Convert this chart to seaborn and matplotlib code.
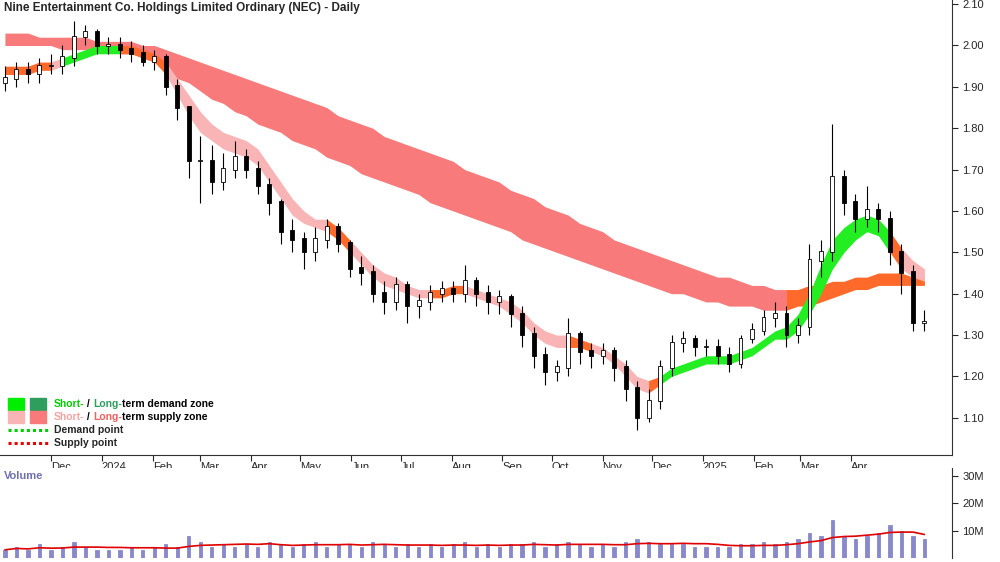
import matplotlib
matplotlib.use("Agg")
import matplotlib.pyplot as plt
import matplotlib.dates as mdates
from matplotlib.patches import Rectangle
import seaborn as sns
import pandas as pd
import numpy as np

weeks = pd.date_range("2023-11-03", periods=81, freq="W-FRI")
opens = [1.91,1.92,1.94,1.93,1.95,1.95,1.97,2.02,2.03,2.00,
         2.00,1.99,1.98,1.96,1.97,1.90,1.85,1.72,1.72,1.67,
         1.70,1.73,1.70,1.66,1.62,1.55,1.53,1.50,1.53,1.56,
         1.52,1.46,1.45,1.40,1.38,1.42,1.37,1.38,1.40,1.41,
         1.40,1.43,1.40,1.38,1.39,1.35,1.30,1.25,1.21,1.22,
         1.30,1.26,1.25,1.26,1.22,1.17,1.10,1.14,1.22,1.28,
         1.29,1.27,1.27,1.25,1.23,1.29,1.31,1.34,1.35,1.30,
         1.32,1.48,1.50,1.68,1.62,1.58,1.60,1.58,1.50,1.45,
         1.33]
closes = [1.92,1.94,1.93,1.95,1.95,1.97,2.02,2.03,2.00,2.00,
          1.99,1.98,1.96,1.97,1.90,1.85,1.72,1.72,1.67,1.70,
          1.73,1.70,1.66,1.62,1.55,1.53,1.50,1.53,1.56,1.52,
          1.46,1.45,1.40,1.38,1.42,1.37,1.38,1.40,1.41,1.40,
          1.43,1.40,1.38,1.39,1.35,1.30,1.25,1.21,1.22,1.30,
          1.26,1.25,1.26,1.22,1.17,1.10,1.14,1.22,1.28,1.29,
          1.27,1.27,1.25,1.23,1.29,1.31,1.34,1.35,1.30,1.32,
          1.48,1.50,1.68,1.62,1.58,1.60,1.58,1.50,1.45,1.33,
          1.33]
highs = [1.95,1.96,1.96,1.97,1.98,2.00,2.06,2.05,2.04,2.02,
         2.02,2.01,2.00,1.99,1.98,1.92,1.81,1.78,1.76,1.74,
         1.77,1.75,1.72,1.68,1.63,1.58,1.55,1.56,1.58,1.57,
         1.53,1.49,1.47,1.43,1.44,1.43,1.40,1.42,1.43,1.43,
         1.47,1.44,1.42,1.41,1.40,1.37,1.32,1.27,1.24,1.34,
         1.31,1.28,1.28,1.27,1.24,1.19,1.17,1.24,1.30,1.31,
         1.30,1.29,1.29,1.27,1.30,1.33,1.36,1.38,1.37,1.34,
         1.52,1.53,1.81,1.70,1.64,1.66,1.62,1.60,1.52,1.47,
         1.36]
lows = [1.89,1.90,1.91,1.91,1.93,1.93,1.95,2.00,1.98,1.98,
        1.97,1.96,1.95,1.94,1.88,1.82,1.68,1.62,1.64,1.65,
        1.68,1.68,1.64,1.59,1.52,1.50,1.46,1.48,1.51,1.50,
        1.44,1.42,1.38,1.35,1.36,1.33,1.34,1.36,1.38,1.38,
        1.38,1.37,1.35,1.35,1.32,1.27,1.22,1.18,1.19,1.20,
        1.23,1.22,1.23,1.19,1.14,1.07,1.09,1.12,1.20,1.26,
        1.25,1.25,1.23,1.21,1.22,1.28,1.30,1.32,1.27,1.28,
        1.30,1.44,1.48,1.59,1.55,1.56,1.55,1.47,1.40,1.31,
        1.31]
volume_m = [3,4,3,5,3,4,6,4,3,3,
            3,4,3,4,5,4,8,6,4,5,
            4,5,4,6,5,4,5,6,4,5,
            5,4,6,5,4,5,4,5,4,5,
            6,4,5,4,5,5,6,4,5,6,
            5,4,5,4,6,7,6,5,5,5,
            4,4,4,4,5,5,6,5,6,7,
            9,8,14,8,7,8,9,12,10,8,
            7]
short_up = [1.95,1.95,1.95,1.96,1.96,1.97,1.98,1.99,2.00,2.00,
            2.00,2.00,1.99,1.98,1.96,1.92,1.88,1.84,1.81,1.79,
            1.78,1.77,1.75,1.71,1.67,1.63,1.60,1.58,1.58,1.56,
            1.53,1.50,1.47,1.45,1.44,1.42,1.41,1.41,1.41,1.42,
            1.42,1.41,1.40,1.39,1.38,1.36,1.33,1.31,1.30,1.30,
            1.29,1.28,1.27,1.25,1.23,1.20,1.19,1.20,1.22,1.23,
            1.24,1.25,1.25,1.25,1.26,1.27,1.29,1.31,1.32,1.35,
            1.40,1.47,1.53,1.56,1.58,1.59,1.58,1.55,1.51,1.48,
            1.46]
short_lo = [1.93,1.93,1.93,1.94,1.94,1.95,1.96,1.97,1.98,1.98,
            1.98,1.98,1.97,1.96,1.93,1.88,1.83,1.79,1.77,1.75,
            1.74,1.73,1.71,1.67,1.63,1.59,1.57,1.56,1.55,1.53,
            1.50,1.47,1.44,1.42,1.41,1.40,1.39,1.39,1.39,1.40,
            1.40,1.39,1.38,1.37,1.35,1.33,1.30,1.28,1.27,1.27,
            1.27,1.26,1.25,1.23,1.20,1.17,1.16,1.18,1.20,1.21,
            1.22,1.23,1.23,1.23,1.24,1.25,1.27,1.29,1.29,1.31,
            1.35,1.40,1.46,1.50,1.53,1.55,1.54,1.50,1.46,1.44,
            1.43]
short_zone = (["x"]*4 + ["s"] + ["d"]*5 + ["x"]*4 + ["s"]*14 + ["x"]*2 + ["s"]*7 +
              ["x"]*3 + ["s"]*9 + ["x"]*2 + ["s"]*5 + ["x"] + ["d"]*20 + ["x"] + ["s"]*3)
long_up = [2.03,2.03,2.03,2.02,2.02,2.02,2.02,2.02,2.01,2.01,
           2.01,2.01,2.00,2.00,1.99,1.98,1.97,1.96,1.95,1.94,
           1.93,1.92,1.91,1.90,1.89,1.88,1.87,1.86,1.85,1.83,
           1.82,1.81,1.80,1.78,1.77,1.76,1.75,1.74,1.73,1.72,
           1.70,1.69,1.68,1.67,1.65,1.64,1.63,1.61,1.60,1.59,
           1.57,1.56,1.55,1.53,1.52,1.51,1.50,1.49,1.48,1.47,
           1.46,1.45,1.44,1.44,1.43,1.42,1.42,1.41,1.41,1.41,
           1.42,1.42,1.43,1.43,1.44,1.44,1.45,1.45,1.45,1.44,
           1.44]
long_lo = [2.00,2.00,2.00,2.00,2.00,1.99,1.99,1.99,1.99,1.99,
           1.98,1.98,1.97,1.96,1.94,1.92,1.91,1.89,1.87,1.86,
           1.84,1.83,1.81,1.80,1.79,1.77,1.76,1.75,1.73,1.72,
           1.71,1.69,1.68,1.67,1.66,1.65,1.64,1.62,1.61,1.60,
           1.59,1.58,1.57,1.56,1.55,1.53,1.52,1.51,1.50,1.49,
           1.48,1.47,1.46,1.45,1.44,1.43,1.42,1.41,1.40,1.40,
           1.39,1.38,1.38,1.37,1.37,1.37,1.36,1.36,1.36,1.37,
           1.37,1.38,1.39,1.40,1.41,1.41,1.42,1.42,1.42,1.42,
           1.42]
long_zone = ["s"]*68 + ["x"]*13

sns.set_style("white")
plt.rcParams["font.family"] = ["Liberation Sans", "DejaVu Sans"]

fig = plt.figure(figsize=(10, 5.62), dpi=100)
ax = fig.add_axes([0, 1 - 455/562, 0.952, 455/562])
axv = fig.add_axes([0, 4/562, 0.952, (558-468)/562], sharex=ax)

x = mdates.date2num(weeks)
SHORT_C = {"s": "#f9b5b5", "d": "#22ee22", "x": "#ff6a2a"}
LONG_C = {"s": "#f87a7a", "d": "#2e9e5e", "x": "#ff6a2a"}

def fill_zones(up, lo, zones, cmap):
    up = np.array(up); lo = np.array(lo)
    start = 0
    n = len(x)
    for i in range(1, n + 1):
        if i == n or zones[i] != zones[start]:
            end = min(i + 1, n)
            ax.fill_between(x[start:end], lo[start:end], up[start:end],
                            color=cmap[zones[start]], lw=0)
            start = i

fill_zones(long_up, long_lo, long_zone, LONG_C)
fill_zones(short_up, short_lo, short_zone, SHORT_C)

w = 2.4
o = np.array(opens); c = np.array(closes)
ax.vlines(x, lows, highs, color="black", lw=0.8, zorder=3)
up_mask = c >= o
ax.bar(x, np.abs(c - o) + 0.004, bottom=np.minimum(o, c), width=w,
       color=np.where(up_mask, "white", "black"), edgecolor="black", lw=0.6, zorder=4)

ax.set_ylim(1.01, 2.11)
xmin = x[0] - 3
xmax = x[0] + 82.4 * 7
ax.set_xlim(xmin, xmax)
ax.yaxis.tick_right()
ax.set_yticks(np.arange(1.1, 2.11, 0.1))
ax.set_yticklabels([f"{v:.2f}" for v in np.arange(1.1, 2.11, 0.1)], fontsize=8)
ax.tick_params(axis="y", length=4, direction="out", right=True)
for s in ["top", "left"]:
    ax.spines[s].set_visible(False)
ax.spines["right"].set_color("#333333")
ax.spines["bottom"].set_color("#333333")

months = pd.date_range("2023-12-01", "2025-04-01", freq="MS")
mlabels = [str(m.year) if m.month == 1 else m.strftime("%b") for m in months]
ax.set_xticks(mdates.date2num(months))
ax.set_xticklabels(mlabels, fontsize=8, ha="left")
ax.tick_params(axis="x", length=4, direction="out", bottom=True, pad=1)

ax.text(0.004, 0.995, "Nine Entertainment Co. Holdings Limited Ordinary (NEC) - Daily",
        transform=ax.transAxes, va="top", ha="left", fontsize=8.5, fontweight="bold")

def px(xp, yp):
    return xp / 952, 1 - yp / 455
rows = [404, 417, 430, 443]
for (c1, c2), yy in zip([("#00ee00", "#2e9e5e"), ("#f9b5b5", "#f87a7a")], rows[:2]):
    for xx, cc in [(8, c1), (30, c2)]:
        x0, y0 = px(xx, yy + 6)
        ax.add_patch(Rectangle((x0, y0), 16/952, 12/455, transform=ax.transAxes,
                               color=cc, zorder=5))
legs = [
    (rows[0], [("Short-", "#00cc00"), (" / ", "black"), ("Long-", "#2e9e5e"), ("term demand zone", "black")]),
    (rows[1], [("Short-", "#f9a0a0"), (" / ", "black"), ("Long-", "#f06060"), ("term supply zone", "black")]),
]
for yy, parts in legs:
    xp = 54
    for t, col in parts:
        tx, ty = px(xp, yy)
        tt = ax.text(tx, ty, t, transform=ax.transAxes, color=col, fontsize=7.5,
                     fontweight="bold", va="center", ha="left")
        fig.canvas.draw()
        xp += tt.get_window_extent().width
for yy, col, lab in [(rows[2], "#00cc00", "Demand point"), (rows[3], "#ee0000", "Supply point")]:
    x0, y0 = px(8, yy)
    x1, _ = px(48, yy)
    ax.plot([x0, x1], [y0, y0], transform=ax.transAxes, color=col, lw=2.2, ls=(0, (1, 1)))
    tx, ty = px(54, yy)
    ax.text(tx, ty, lab, transform=ax.transAxes, fontsize=7.5, fontweight="bold",
            va="center", ha="left")

vol = np.array(volume_m) * 1e6
axv.bar(x, vol, width=2, color="#8888cc", edgecolor="#6a6ab8", lw=0.4)
ma = pd.Series(vol).rolling(8, min_periods=1).mean()
sns.lineplot(x=x, y=ma.values, ax=axv, color="#e00000", lw=1.2)
axv.set_ylim(0, 33e6)
axv.yaxis.tick_right()
axv.set_yticks([10e6, 20e6, 30e6])
axv.set_yticklabels(["10M", "20M", "30M"], fontsize=8)
axv.tick_params(axis="y", length=4, direction="out", right=True)
axv.tick_params(axis="x", bottom=False, labelbottom=False)
for s in ["top", "left", "bottom"]:
    axv.spines[s].set_visible(False)
axv.spines["right"].set_color("#333333")
axv.text(0.004, 0.97, "Volume", transform=axv.transAxes, va="top", ha="left",
         fontsize=8, fontweight="bold", color="#7070b0")

fig.savefig("out.png", dpi=100)
